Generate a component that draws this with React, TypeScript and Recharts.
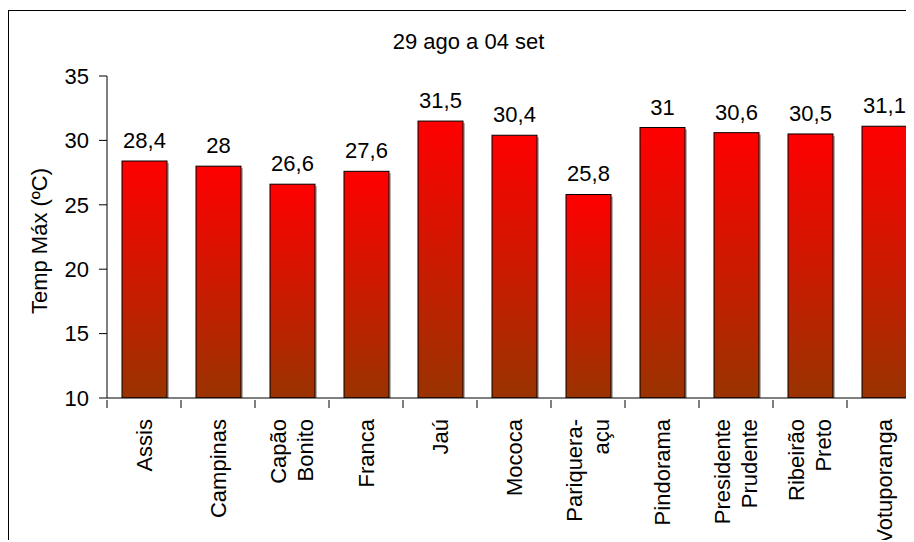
import React from 'react';
import { BarChart, Bar, XAxis, YAxis, LabelList } from 'recharts';

const stations = [
  'Assis',
  'Campinas',
  'Capão\nBonito',
  'Franca',
  'Jaú',
  'Mococa',
  'Pariquera-\naçu',
  'Pindorama',
  'Presidente\nPrudente',
  'Ribeirão\nPreto',
  'Votuporanga',
];
const tempMax = [28.4, 28, 26.6, 27.6, 31.5, 30.4, 25.8, 31, 30.6, 30.5, 31.1];
const yTicks = [10, 15, 20, 25, 30, 35];
const title = '29 ago a 04 set';
const yTitle = 'Temp Máx (ºC)';

const FONT = '"Liberation Sans", Arial, sans-serif';
const CHART_W = 920;
const CHART_H = 531;
const AXIS_W = 98;
const MARGIN = { top: 65, right: 8, bottom: 0, left: 0 };
const BAND = (CHART_W - AXIS_W - MARGIN.left - MARGIN.right) / stations.length;

const data = stations.map((station, i) => ({ station, temp: tempMax[i] }));

const StationTick = (props: any) => {
  const { x, y, payload } = props;
  const lines: string[] = String(payload.value).split('\n');
  const lh = 27;
  const ty = y + 19;
  return (
    <g>
      <line x1={x - BAND / 2} x2={x - BAND / 2} y1={y} y2={y + 8} stroke="#000" />
      <text
        x={x}
        y={ty}
        transform={`rotate(-90, ${x}, ${ty})`}
        textAnchor="end"
        fontSize={22}
        fontFamily={FONT}
        fill="#000"
      >
        {lines.map((l, i) => (
          <tspan key={i} x={x} dy={i === 0 ? 7.7 - ((lines.length - 1) * lh) / 2 : lh}>
            {l}
          </tspan>
        ))}
      </text>
    </g>
  );
};

const BarShape = (props: any) => {
  const { x, y, width, height } = props;
  if (!height || height <= 0) return null;
  return (
    <g>
      <rect x={x + 2} y={y + 2} width={width} height={Math.max(height - 2, 0)} fill="#000" opacity={0.3} />
      <rect x={x} y={y} width={width} height={height} fill="url(#barGrad)" stroke="#000" strokeWidth={1} />
    </g>
  );
};

const App: React.FC = () => {
  return (
    <>
      <style>{'body{overflow:hidden}'}</style>
      <div
        style={{
          position: 'relative',
          top: 2,
          width: 906,
          height: 532,
          boxSizing: 'border-box',
          borderTop: '1px solid #000',
          borderLeft: '1px solid #000',
          overflow: 'hidden',
          background: '#fff',
          fontFamily: FONT,
        }}
      >
        <BarChart width={CHART_W} height={CHART_H} data={data} margin={MARGIN}>
          <defs>
            <linearGradient id="barGrad" x1="0" y1="0" x2="0" y2="1">
              <stop offset="0%" stopColor="#ff0000" />
              <stop offset="100%" stopColor="#993300" />
            </linearGradient>
          </defs>
          <XAxis
            dataKey="station"
            type="category"
            interval={0}
            height={144}
            tickSize={0}
            tickLine={false}
            axisLine={{ stroke: '#000' }}
            tick={<StationTick />}
          />
          <YAxis
            domain={[10, 35]}
            ticks={yTicks}
            interval={0}
            allowDataOverflow
            width={AXIS_W}
            tickSize={8}
            tickMargin={10}
            axisLine={{ stroke: '#000' }}
            tickLine={{ stroke: '#000' }}
            tick={{ fill: '#000', fontSize: 22, fontFamily: FONT }}
          />
          <Bar dataKey="temp" barSize={45} shape={<BarShape />} isAnimationActive={false}>
            <LabelList
              dataKey="temp"
              position="top"
              offset={13}
              fill="#000"
              fontSize={22}
              fontFamily={FONT}
              formatter={(v: any) => String(v).replace('.', ',')}
            />
          </Bar>
        </BarChart>
        <svg
          width={906}
          height={532}
          style={{ position: 'absolute', left: 0, top: 0, pointerEvents: 'none' }}
        >
          <text x={459.5} y={38} textAnchor="middle" fontSize={22} fontFamily={FONT} fill="#000">
            {title}
          </text>
          <text
            x={37.5}
            y={230}
            transform="rotate(-90, 37.5, 230)"
            textAnchor="middle"
            fontSize={22}
            fontFamily={FONT}
            fill="#000"
          >
            {yTitle}
          </text>
        </svg>
      </div>
    </>
  );
};

export default App;
